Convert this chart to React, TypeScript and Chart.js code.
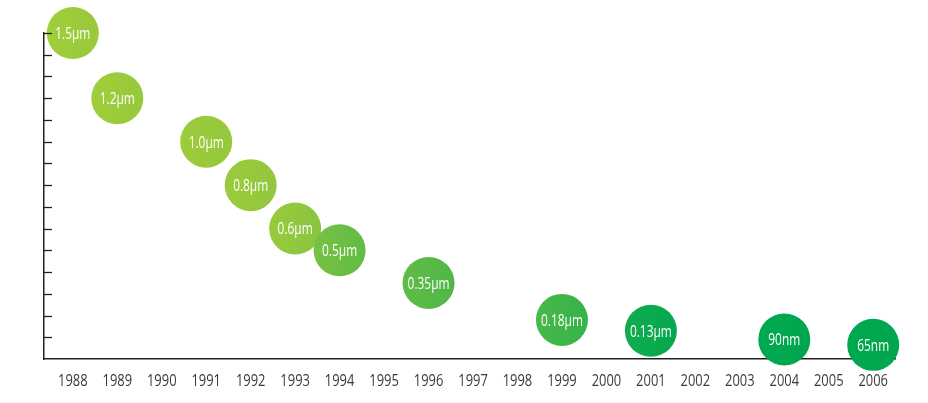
import React, { useEffect, useRef } from "react";
import { Chart, registerables } from "chart.js";

Chart.register(...registerables);

const years = [1988, 1989, 1990, 1991, 1992, 1993, 1994, 1995, 1996, 1997, 1998, 1999, 2000, 2001, 2002, 2003, 2004, 2005, 2006];
const nodeYears = [1988, 1989, 1991, 1992, 1993, 1994, 1996, 1999, 2001, 2004, 2006];
const nodeSizesUm = [1.5, 1.2, 1.0, 0.8, 0.6, 0.5, 0.35, 0.18, 0.13, 0.09, 0.065];
const nodeLabels = ["1.5µm", "1.2µm", "1.0µm", "0.8µm", "0.6µm", "0.5µm", "0.35µm", "0.18µm", "0.13µm", "90nm", "65nm"];
const colorsLeft = ["#a1cd3a", "#a0cd3a", "#9dcb3b", "#9bca3c", "#9aca3c", "#78c143", "#62bb46", "#4ab848", "#12ac4e", "#00a94f", "#00a94f"];
const colorsRight = ["#98c93c", "#97c93d", "#95c83d", "#93c73e", "#88c540", "#62bb46", "#4fb748", "#34b34a", "#04a84f", "#00a64f", "#00a64f"];
const yTicks = [0.1, 0.2, 0.3, 0.4, 0.5, 0.6, 0.7, 0.8, 0.9, 1.0, 1.1, 1.2, 1.3, 1.4, 1.5];

const FONT = "'Open Sans', 'DejaVu Sans', sans-serif";
const R = 26;

function condensedText(ctx: any, text: string, x: number, y: number, sx: number) {
  ctx.save();
  ctx.translate(x, y);
  ctx.scale(sx, 1);
  ctx.fillText(text, 0, 0);
  ctx.restore();
}

const gradients = {
  id: "gradients",
  beforeDatasetsDraw(chart: any) {
    const { ctx } = chart;
    const meta = chart.getDatasetMeta(0);
    meta.data.forEach((el: any, i: number) => {
      if (!isFinite(el.x)) return;
      const g = ctx.createLinearGradient(el.x - R, 0, el.x + R, 0);
      g.addColorStop(0, colorsLeft[i]);
      g.addColorStop(1, colorsRight[i]);
      el.options.backgroundColor = g;
    });
  },
};

const innerTicks = {
  id: "innerTicks",
  afterDraw(chart: any) {
    const { ctx } = chart;
    const y = chart.scales.y;
    const x = chart.scales.x;
    const left = chart.chartArea.left;
    ctx.save();
    ctx.strokeStyle = "#222";
    ctx.lineWidth = 1.3;
    yTicks.forEach((v) => {
      const py = Math.round(y.getPixelForValue(v)) + 0.5;
      ctx.beginPath();
      ctx.moveTo(left, py);
      ctx.lineTo(left + 8, py);
      ctx.stroke();
    });
    ctx.fillStyle = "#3a3a3a";
    ctx.font = `17px ${FONT}`;
    ctx.textAlign = "center";
    ctx.textBaseline = "middle";
    const ly = chart.chartArea.bottom + 22;
    years.forEach((yr) => {
      condensedText(ctx, String(yr), x.getPixelForValue(yr), ly, 0.76);
    });
    ctx.restore();
  },
};

const bubbleLabels = {
  id: "bubbleLabels",
  afterDatasetsDraw(chart: any) {
    const { ctx } = chart;
    const meta = chart.getDatasetMeta(0);
    ctx.save();
    ctx.fillStyle = "#ffffff";
    ctx.font = `17px ${FONT}`;
    ctx.textAlign = "center";
    ctx.textBaseline = "middle";
    meta.data.forEach((el: any, i: number) => {
      condensedText(ctx, nodeLabels[i], el.x, el.y + 1, 0.7);
    });
    ctx.restore();
  },
};

export default function App() {
  const ref = useRef<HTMLCanvasElement | null>(null);
  useEffect(() => {
    document.body.style.margin = "0";
    const canvas = ref.current;
    if (!canvas) return;
    const chart = new Chart(canvas, {
      type: "bubble",
      data: {
        datasets: [
          {
            data: nodeYears.map((yr, i) => ({ x: yr, y: nodeSizesUm[i] })),
            backgroundColor: colorsLeft,
            borderWidth: 0,
            radius: R,
            hoverRadius: 0,
            clip: false,
          } as any,
        ],
      },
      options: {
        animation: false,
        responsive: false,
        events: [],
        layout: { padding: { left: 44, top: 33, right: 33, bottom: 0 } },
        plugins: { legend: { display: false }, tooltip: { enabled: false } },
        scales: {
          x: {
            type: "linear",
            min: 1987.352,
            max: 2006.49,
            afterBuildTicks: (scale: any) => {
              scale.ticks = years.map((v) => ({ value: v }));
            },
            afterFit: (scale: any) => {
              scale.height = 44;
            },
            grid: { display: false, drawTicks: false },
            border: { display: true, color: "#222", width: 1.5 },
            ticks: { display: false },
          },
          y: {
            min: 0,
            max: 1.5,
            afterFit: (scale: any) => {
              scale.width = 0;
            },
            grid: { display: false, drawTicks: false },
            border: { display: true, color: "#222", width: 1.5 },
            ticks: { display: false },
          },
        },
      },
      plugins: [gradients, innerTicks, bubbleLabels],
    });
    return () => chart.destroy();
  }, []);
  return (
    <div style={{ width: 928, height: 403 }}>
      <canvas ref={ref} width={928} height={403} style={{ width: 928, height: 403, display: "block" }} />
    </div>
  );
}
